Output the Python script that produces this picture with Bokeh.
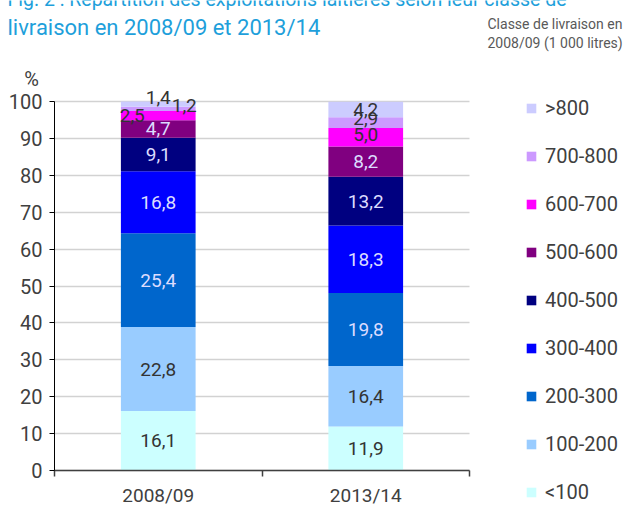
from bokeh.plotting import figure
from bokeh.models import Range1d, FixedTicker, Label, Legend, LegendItem, ColumnDataSource
from bokeh.core.properties import value
from bokeh.embed import file_html
from bokeh.resources import INLINE
import numpy as np

# ---------------- data ----------------
periods = ["2008/09", "2013/14"]
classes = ["<100", "100-200", "200-300", "300-400", "400-500",
           "500-600", "600-700", "700-800", ">800"]
share_2008 = [16.1, 22.8, 25.4, 16.8, 9.1, 4.7, 2.5, 1.2, 1.4]
share_2013 = [11.9, 16.4, 19.8, 18.3, 13.2, 8.2, 5.0, 2.9, 4.2]
y_ticks = list(range(0, 101, 10))

title_lines = ["Fig. 2 : Répartition des exploitations laitières selon leur classe de",
               "livraison en 2008/09 et 2013/14"]
legend_title = ["Classe de livraison en", "2008/09 (1 000 litres)"]
y_unit = "%"

# ---------------- layout / styles ----------------
W, H = 638, 506
AX_LEFT, AX_RIGHT = 54, 469      # pixel position of x=0 and x=n
AX_BOTTOM, AX_TOP = 470, 101     # pixel position of y=0 and y=100
n = len(periods)
ppx = (AX_RIGHT - AX_LEFT) / n
ppy = (AX_BOTTOM - AX_TOP) / 100.0

FONT_NAME = "Roboto"
FONT = value(FONT_NAME)
colors = ["#ccffff", "#99ccff", "#0066cc", "#0000ff", "#000080",
          "#800080", "#ff00ff", "#cc99ff", "#ccccff"]
light_txt = "#dcdcff"
dark_txt = "#333333"
label_colors = [dark_txt, dark_txt, light_txt, light_txt, light_txt,
                light_txt, dark_txt, dark_txt, dark_txt]
# per-label pixel nudges (period index, class index) -> (dx, dy)
nudges = {(0, 6): (-26, 0), (0, 7): (26, -3), (0, 8): (0, -7),
          (1, 7): (0, -4), (1, 6): (0, -3)}

series = [share_2008, share_2013]
xs = [i + 0.5 for i in range(n)]

x_range = Range1d(-AX_LEFT / ppx, (W - AX_LEFT) / ppx)
y_range = Range1d(-(H - AX_BOTTOM) / ppy, 100 + AX_TOP / ppy)

p = figure(width=W, height=H, output_backend="svg", toolbar_location=None,
           x_range=x_range, y_range=y_range, min_border=0)
p.outline_line_color = None
p.background_fill_color = "white"
p.border_fill_color = "white"

src = ColumnDataSource({"x": xs, **{c: [s[k] for s in series] for k, c in enumerate(classes)}})
rends = p.vbar_stack(classes, x="x", width=0.36, color=colors, line_color=None, source=src)

# value labels
lx, ly, lt, lc, ldx, ldy = [], [], [], [], [], []
for i, s in enumerate(series):
    arr = np.array(s)
    tops = np.cumsum(arr)
    mids = tops - arr / 2
    for k, v in enumerate(s):
        dx, dy = nudges.get((i, k), (0, 0))
        lx.append(xs[i]); ly.append(mids[k]); lt.append(f"{v:.1f}".replace(".", ","))
        lc.append(label_colors[k]); ldx.append(dx); ldy.append(dy)
lsrc = ColumnDataSource(dict(x=lx, y=ly, text=lt, color=lc, dx=ldx, dy=ldy))
p.text(x="x", y="y", text="text", text_color="color", x_offset="dx", y_offset="dy",
       text_align="center", text_baseline="middle", text_font=FONT,
       text_font_size="19px", source=lsrc)

# axes (pinned inside the frame)
xa = p.xaxis[0]
xa.fixed_location = 0
xa.bounds = (0, n)
xa.ticker = FixedTicker(ticks=xs, minor_ticks=list(range(n + 1)))
xa.major_label_overrides = {x: lab for x, lab in zip(xs, periods)}
xa.major_tick_out = 0
xa.major_tick_in = 0
xa.minor_tick_out = 6
xa.minor_tick_in = 0
xa.minor_tick_line_color = "#404040"
xa.minor_tick_line_width = 1.5
xa.axis_line_color = "#404040"
xa.axis_line_width = 1.5
xa.major_label_standoff = 7
xa.major_label_text_font = FONT_NAME
xa.major_label_text_font_size = "19px"
xa.major_label_text_color = "#404040"

ya = p.yaxis[0]
ya.fixed_location = 0
ya.bounds = (0, 100)
ya.ticker = FixedTicker(ticks=y_ticks)
ya.minor_tick_line_color = None
ya.major_tick_out = 5
ya.major_tick_in = 0
ya.major_tick_line_color = "#000000"
ya.axis_line_color = "#000000"
ya.major_label_standoff = 7
ya.major_label_text_font = FONT_NAME
ya.major_label_text_font_size = "20px"
ya.major_label_text_color = "#404040"

p.xgrid.grid_line_color = None
p.ygrid.grid_line_color = "#d2d2d2"
p.ygrid.grid_line_width = 1.5
p.ygrid.bounds = (10, 100)
p.ygrid.cross_bounds = (0, n)

# legend
items = [LegendItem(label=c, renderers=[r]) for c, r in zip(classes, rends)][::-1]
leg = Legend(items=items, location=(525, 2), glyph_width=12, glyph_height=12,
             label_standoff=8, spacing=24, padding=0, margin=0, label_height=24,
             label_text_font=FONT_NAME, label_text_font_size="20px",
             label_text_color="#404040", border_line_color=None,
             background_fill_alpha=0)
p.add_layout(leg)

# texts
p.add_layout(Label(x=7, y=H + 1, x_units="screen", y_units="screen", text=title_lines[0],
                   text_font=FONT_NAME, text_font_size="19.5px", text_color="#1e9fdb",
                   text_baseline="alphabetic"))
p.add_layout(Label(x=7, y=H - 27, x_units="screen", y_units="screen", text=title_lines[1],
                   text_font=FONT_NAME, text_font_size="22px", text_color="#1e9fdb",
                   text_baseline="alphabetic"))
for j, t in enumerate(legend_title):
    p.add_layout(Label(x=487, y=H - 23 - 19 * j, x_units="screen", y_units="screen", text=t,
                       text_font=FONT_NAME, text_font_size="14px", text_color="#595959",
                       text_baseline="alphabetic"))
p.add_layout(Label(x=31, y=H - 78, x_units="screen", y_units="screen", text=y_unit,
                   text_font=FONT_NAME, text_font_size="20px", text_color="#404040",
                   text_align="center", text_baseline="middle"))

open("out.html", "w").write(file_html(p, INLINE))
